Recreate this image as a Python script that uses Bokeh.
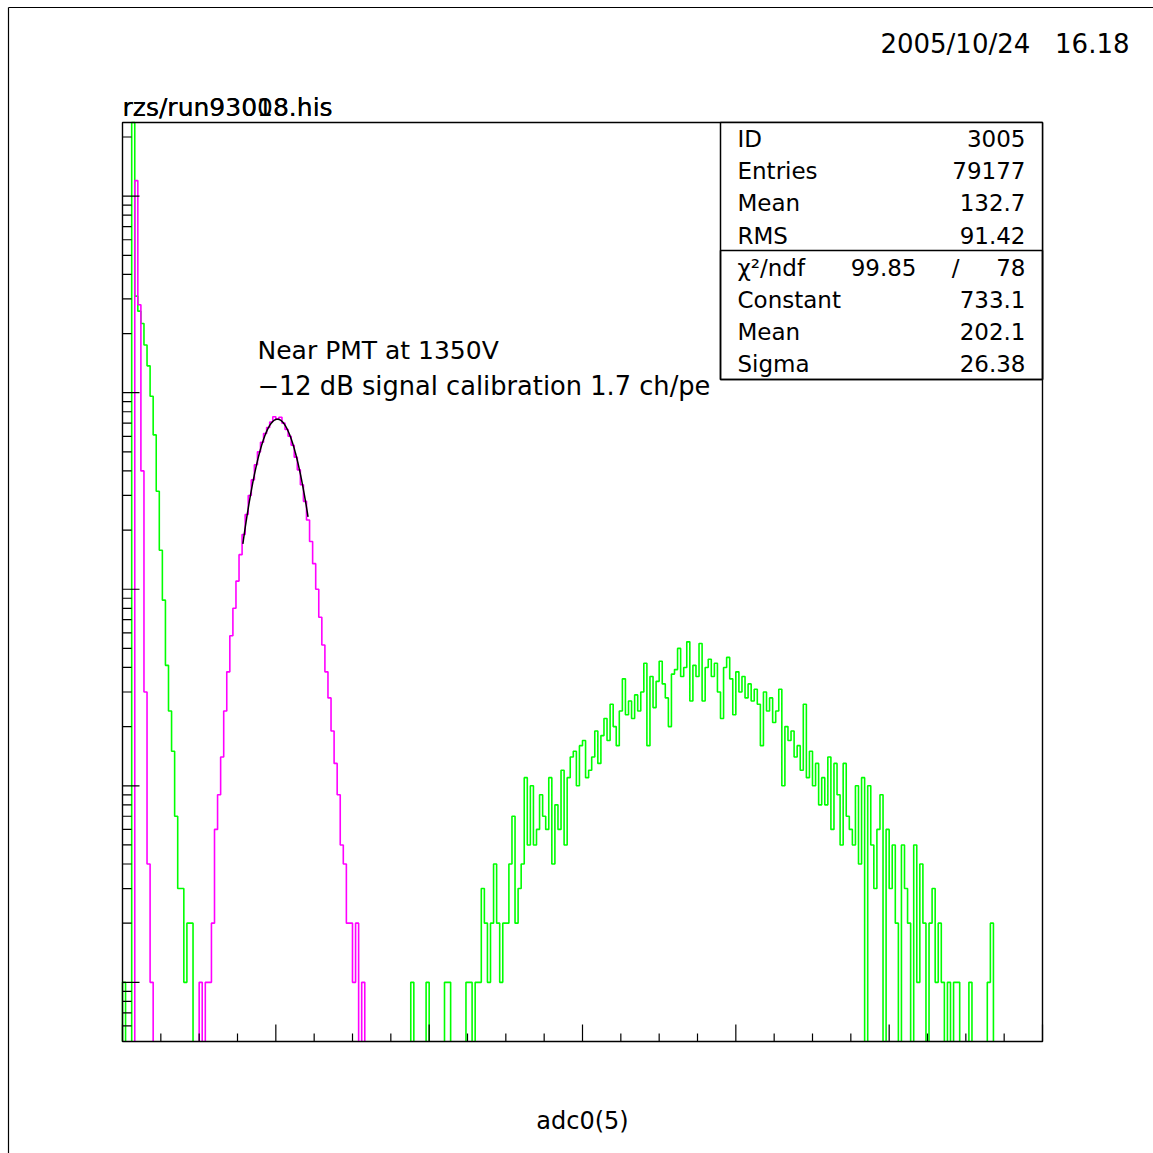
import math
import numpy as np
from bokeh.plotting import figure
from bokeh.models import Range1d, Label, BoxAnnotation
from bokeh.embed import file_html
from bokeh.resources import INLINE

# ---------------- data ----------------
x_min, x_max = 0, 1200          # adc channel range of the histogram frame
bin_width = 4                    # channels per drawn bin
y_min, y_max = 0.5, 23700        # log y range of the histogram frame (counts)

# green histogram (run 93018), counts per bin, bins of 4 channels starting at 0
green_counts = (
    [1, 0, 0, 40000, 3100, 2600, 2250, 1750, 1370, 960, 610, 315, 158, 88, 41, 24, 15, 7, 3, 3]
    + [1, 2, 2] + [0] * 17
    + [0] * 20
    + [0] * 20
    + [0] * 14 + [1, 0, 0, 0, 0, 1]
    + [0, 0, 0, 0, 0, 1, 1, 0, 0, 0, 0, 0, 1, 1, 0, 1, 1, 3, 2, 1]
    + [2, 4, 2, 1, 2, 2, 4, 7, 2, 3, 4, 11, 5, 10, 5, 6, 9, 7, 6, 11]
    + [4, 8, 6, 12, 5, 11, 14, 15, 10, 16, 17, 11, 12, 14, 19, 13, 18, 22, 17, 26]
    + [20, 16, 24, 35, 23, 27, 22, 29, 24, 30, 42, 16, 36, 25, 34, 43, 33, 28, 20, 37]
    + [39, 50, 36, 40, 54, 27, 41, 36, 53, 27, 40, 44, 36, 42, 30, 22, 40, 45, 35, 23]
    + [38, 30, 36, 28, 33, 27, 31, 26, 16, 30, 24, 28, 21, 24, 31, 10, 20, 17, 19, 14]
    + [16, 12, 26, 11, 15, 10, 13, 8, 11, 8, 14, 6, 13, 9, 5, 13, 7, 6, 5, 10]
    + [4, 11, 0, 10, 5, 3, 6, 9, 0, 6, 3, 5, 2, 0, 5, 3, 2, 0, 5, 1]
    + [4, 2, 0, 2, 3, 1, 2, 1, 0, 1, 0, 1, 1, 0, 0, 0, 1, 0, 0, 0]
    + [0, 0, 1, 2] + [0] * 16
)

# magenta histogram (run 93008, ID 3005), counts per bin
magenta_counts = (
    [0, 0, 0, 0, 12000, 2800, 400, 30, 4, 1] + [0] * 10
    + [0, 0, 0, 0, 0, 1, 0, 1, 1, 2, 6, 9, 14, 24, 38, 58, 80, 110, 150, 190]
    + [240, 300, 360, 430, 500, 560, 620, 665, 710, 755, 735, 750, 700, 650, 600, 540, 470, 405, 340, 280]
    + [225, 175, 135, 100, 72, 52, 38, 28, 19, 13, 9, 5, 4, 2, 2, 1, 2, 0, 1, 0]
    + [0] * 220
)

# gaussian fit shown on the magenta peak
fit_constant, fit_mean, fit_sigma = 733.1, 202.1, 26.38
fit_lo, fit_hi = 157, 242

x_major = [0, 200, 400, 600, 800, 1000, 1200]
x_minor = [50, 100, 150, 250, 300, 350, 450, 500, 550, 650, 700, 750, 850, 900, 950, 1050, 1100, 1150]
y_major = [1, 10, 100, 1000, 10000]
y_minor = [0.6, 0.7, 0.8, 0.9, 2, 3, 4, 5, 6, 7, 8, 9, 20, 30, 40, 50, 60, 70, 80, 90,
           200, 300, 400, 500, 600, 700, 800, 900, 2000, 3000, 4000, 5000, 6000, 7000, 8000, 9000, 20000]

stats_names = ["ID", "Entries", "Mean", "RMS"]
stats_values = ["3005", "79177", "132.7", "91.42"]
fit_names = ["Constant", "Mean", "Sigma"]
fit_values = ["733.1", "202.1", "26.38"]
chi2_value, ndf_value = "99.85", "78"

titles = ["rzs/run93008.his", "rzs/run93018.his"]
date_text = "2005/10/24\u00a0\u00a0\u00a016.18"
note_lines = ["Near PMT at 1350V", "\u221212 dB signal calibration 1.7 ch/pe"]
x_title = "adc0(5)"

# ---------------- layout helpers (page pixels -> data) ----------------
W = H = 1153
FL, FR, FT, FB = 122, 1042, 122, 1041   # histogram frame edges in page pixels
FONT = "DejaVu Sans"
L0, L1 = math.log10(y_min), math.log10(y_max)


def dx(px):
    return x_min + (px - FL) / (FR - FL) * (x_max - x_min)


def dy(py):
    return 10 ** (L0 + (FB - py) / (FB - FT) * (L1 - L0))


def step_path(counts):
    """Histogram outline; empty bins drop to the frame bottom, tall bins clip at its top."""
    xs, ys = [], []
    prev = 0
    for i, c in enumerate(counts):
        lo = x_min + i * bin_width
        hi = lo + bin_width
        if c > 0:
            v = min(c, y_max)
            if prev == 0:
                xs.append(lo)
                ys.append(y_min)
            xs += [lo, hi]
            ys += [v, v]
        elif prev > 0:
            xs += [lo, float("nan")]
            ys += [y_min, float("nan")]
        prev = c
    if prev > 0:
        xs.append(x_min + len(counts) * bin_width)
        ys.append(y_min)
    return xs, ys


p = figure(width=W, height=H, title=None,
           x_range=Range1d(dx(0), dx(W)), y_range=Range1d(dy(H), dy(0)),
           y_axis_type="log", x_axis_location=None, y_axis_location=None,
           output_backend="svg", toolbar_location=None,
           min_border_left=0, min_border_right=0, min_border_top=0, min_border_bottom=0)
p.xgrid.visible = False
p.ygrid.visible = False
p.outline_line_color = None
p.background_fill_color = "white"
p.border_fill_color = "white"

# page border lines (top and left)
p.segment(x0=[dx(8), dx(8)], y0=[dy(7), dy(7)], x1=[dx(W), dx(8)], y1=[dy(7), dy(H)],
          line_color="black", line_width=1.2)

# histograms
gx, gy = step_path(green_counts)
p.line(gx, gy, line_color="#00ff00", line_width=1.6)
mx, my = step_path(magenta_counts)
p.line(mx, my, line_color="#ff00ff", line_width=1.6)

fx = np.linspace(fit_lo, fit_hi, 200)
fy = fit_constant * np.exp(-0.5 * ((fx - fit_mean) / fit_sigma) ** 2)
p.line(fx, fy, line_color="black", line_width=1.5)

# axis ticks (inward), drawn from the tick value lists
ybot, ymaj, ymin_t = dy(FB), dy(FB - 17), dy(FB - 8)
p.segment(x0=x_major, y0=[ybot] * len(x_major), x1=x_major, y1=[ymaj] * len(x_major),
          line_color="black", line_width=1.2)
p.segment(x0=x_minor, y0=[ybot] * len(x_minor), x1=x_minor, y1=[ymin_t] * len(x_minor),
          line_color="black", line_width=1.2)
xl, xmaj, xmin_t = dx(FL), dx(FL + 17), dx(FL + 9)
p.segment(x0=[xl] * len(y_major), y0=y_major, x1=[xmaj] * len(y_major), y1=y_major,
          line_color="black", line_width=1.2)
p.segment(x0=[xl] * len(y_minor), y0=y_minor, x1=[xmin_t] * len(y_minor), y1=y_minor,
          line_color="black", line_width=1.2)

# histogram frame
p.add_layout(BoxAnnotation(left=x_min, right=x_max, top=y_max, bottom=y_min,
                           fill_alpha=0.0, line_color="black", line_alpha=1.0, line_width=1.4))


def label(px, py, text, align="left", size="23px"):
    p.add_layout(Label(x=dx(px), y=dy(py), text=text, text_align=align,
                       text_baseline="middle", text_font=FONT,
                       text_font_size=size, text_color="black"))


# statistics box
p.add_layout(BoxAnnotation(left=dx(720), right=x_max, top=y_max, bottom=dy(379),
                           fill_color="white", fill_alpha=1.0,
                           line_color="black", line_alpha=1.0, line_width=1.5))
p.add_layout(BoxAnnotation(left=dx(720), right=x_max, top=dy(250), bottom=dy(379),
                           fill_alpha=0.0, line_color="black", line_alpha=1.0, line_width=1.5))
rows_y = [138, 170, 202, 235]
for name, val, ry in zip(stats_names, stats_values, rows_y):
    label(737, ry, name)
    label(1025, ry, val, align="right")
label(737, 267, "\u03c7\u00b2/ndf")
label(916, 267, chi2_value, align="right")
label(955, 267, "/", align="center")
label(1025, 267, ndf_value, align="right")
for name, val, ry in zip(fit_names, fit_values, [299, 331, 363]):
    label(737, ry, name)
    label(1025, ry, val, align="right")

for t in titles:
    label(122, 107, t, size="25px")
label(1129, 43, date_text, align="right", size="26px")
label(257, 350, note_lines[0], size="25px")
label(257, 385, note_lines[1], size="25.7px")
label(582, 1120, x_title, align="center", size="24px")

open("out.html", "w").write(file_html(p, INLINE))
